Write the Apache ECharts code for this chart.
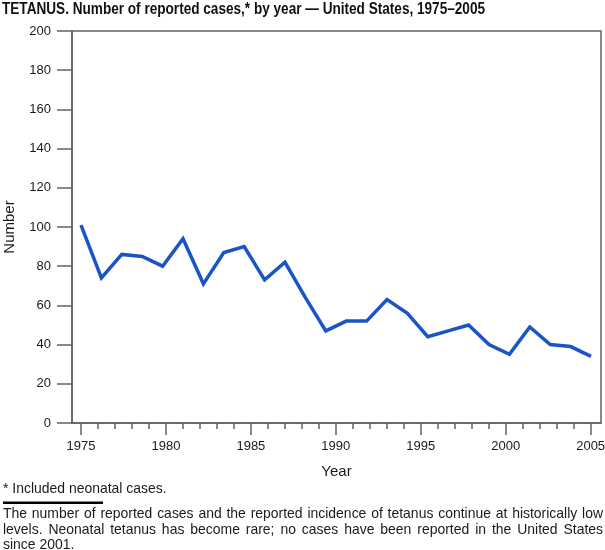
<!DOCTYPE html>
<html>
<head>
<meta charset="utf-8">
<script src="https://cdn.jsdelivr.net/npm/echarts@6/dist/echarts.min.js"></script>
<style>
html,body{margin:0;padding:0;background:#fff;}
#c{width:605px;height:550px;}
</style>
</head>
<body>
<div id="c"></div>
<script>
// ---- data ----
var pointLabels = ['p1','p2','p3','p4','p5','p6','p7','p8','p9','p10','p11','p12','p13',
  'p14','p15','p16','p17','p18','p19','p20','p21','p22','p23','p24','p25','p26'];
var cases = [101, 74, 86, 85, 80, 94, 71, 87, 90, 73, 82, 64, 47,
  52, 52, 63, 56, 44, 47, 50, 40, 35, 49, 40, 39, 34];
var yearTicks = [1975,1976,1977,1978,1979,1980,1981,1982,1983,1984,1985,1986,1987,1988,1989,
  1990,1991,1992,1993,1994,1995,1996,1997,1998,1999,2000,2001,2002,2003,2004,2005];
var yearLabels = [1975, 1980, 1985, 1990, 1995, 2000, 2005];
var titleText = 'TETANUS. Number of reported cases,* by year \u2014 United States, 1975\u20132005';
var footnote = '* Included neonatal cases.';
var paraLines = [
  'The number of reported cases and the reported incidence of tetanus continue at historically low',
  'levels. Neonatal tetanus has become rare; no cases have been reported in the United States',
  'since 2001.'
];

var SANS = '"Liberation Sans", Arial, Helvetica, sans-serif';
var axisColor = '#5c6666';
var textColor = '#1a1a1a';
var SX = 0.93; // horizontal condensing of the narrow Helvetica look

var chart = echarts.init(document.getElementById('c'), null, {renderer: 'canvas'});

var mctx = document.createElement('canvas').getContext('2d');
function textEl(str, x, y, font, sx, color) {
  return {type: 'text', x: x, y: y, scaleX: sx, scaleY: 1,
    style: {text: str, font: font, fill: color || textColor, verticalAlign: 'middle', align: 'left'}};
}
function justifyLine(line, y, font, x0, x1, sx) {
  var els = [];
  var words = line.split(' ');
  mctx.font = font;
  var widths = words.map(function (w) { return mctx.measureText(w).width * sx; });
  var total = widths.reduce(function (a, b) { return a + b; }, 0);
  var gap = (x1 - x0 - total) / (words.length - 1);
  var x = x0;
  words.forEach(function (w, i) {
    els.push(textEl(w, x, y, font, sx));
    x += widths[i] + gap;
  });
  return els;
}

var paraFont = '15px ' + SANS;
var titleFont = 'bold 16px ' + SANS;
var graphics = [];
mctx.font = titleFont;
var titleW = mctx.measureText(titleText).width;
graphics.push(textEl(titleText, 2, 10, titleFont, 483 / titleW, '#111'));
graphics.push(textEl(footnote, 3, 489, paraFont, SX));
graphics.push({type: 'rect', shape: {x: 3, y: 501.5, width: 100, height: 2.5}, style: {fill: '#000'}});
graphics = graphics.concat(justifyLine(paraLines[0], 514, paraFont, 3, 603, SX));
graphics = graphics.concat(justifyLine(paraLines[1], 530, paraFont, 3, 603, SX));
graphics.push(textEl(paraLines[2], 3, 545, paraFont, SX));

var xMin = 1974.47, xMax = 2005.61;

chart.setOption({
  animation: false,
  backgroundColor: '#fff',
  grid: [
    {left: 72, right: 4, top: 31, bottom: 127, outerBoundsMode: 'none', containLabel: false,
      show: true, borderColor: axisColor, borderWidth: 1.5, backgroundColor: 'transparent'},
    {left: 81, right: 14, top: 31, bottom: 127, outerBoundsMode: 'none', containLabel: false}
  ],
  xAxis: [
    {
      type: 'value', gridIndex: 0, position: 'bottom', min: xMin, max: xMax,
      axisLine: {show: true, lineStyle: {color: axisColor, width: 1.5}},
      axisTick: {show: true, inside: false, length: 6, customValues: yearTicks, lineStyle: {color: axisColor, width: 1.5}},
      axisLabel: {show: false},
      splitLine: {show: false},
      name: 'Year', nameLocation: 'middle', nameGap: 41,
      nameTextStyle: {fontFamily: SANS, fontSize: 15, color: textColor}
    },
    {
      type: 'value', gridIndex: 0, position: 'bottom', offset: 0, min: xMin, max: xMax,
      axisLine: {show: false},
      axisTick: {show: true, inside: false, length: 12, customValues: yearLabels, lineStyle: {color: axisColor, width: 1.5}},
      axisLabel: {show: true, customValues: yearLabels, margin: 17, fontFamily: SANS, fontSize: 13, color: textColor,
        formatter: function (v) { return String(Math.round(v)); }},
      splitLine: {show: false}
    },
    {
      type: 'category', gridIndex: 1, data: pointLabels, boundaryGap: false, show: false
    }
  ],
  yAxis: [
    {
      type: 'value', gridIndex: 0, min: 0, max: 200, interval: 20,
      axisLine: {show: true, lineStyle: {color: axisColor, width: 1.5}},
      axisTick: {show: true, inside: false, length: 15, lineStyle: {color: axisColor, width: 1.5}},
      axisLabel: {margin: 21, fontFamily: SANS, fontSize: 13, color: textColor},
      splitLine: {show: false},
      name: 'Number', nameLocation: 'middle', nameGap: 55,
      nameTextStyle: {fontFamily: SANS, fontSize: 15, color: textColor}
    },
    {type: 'value', gridIndex: 1, min: 0, max: 200, show: false}
  ],
  series: [{
    type: 'line', xAxisIndex: 2, yAxisIndex: 1, data: cases,
    symbol: 'none', smooth: false,
    lineStyle: {color: '#1b54c6', width: 3.5, join: 'miter'}
  }],
  graphic: graphics
});
</script>
</body>
</html>
